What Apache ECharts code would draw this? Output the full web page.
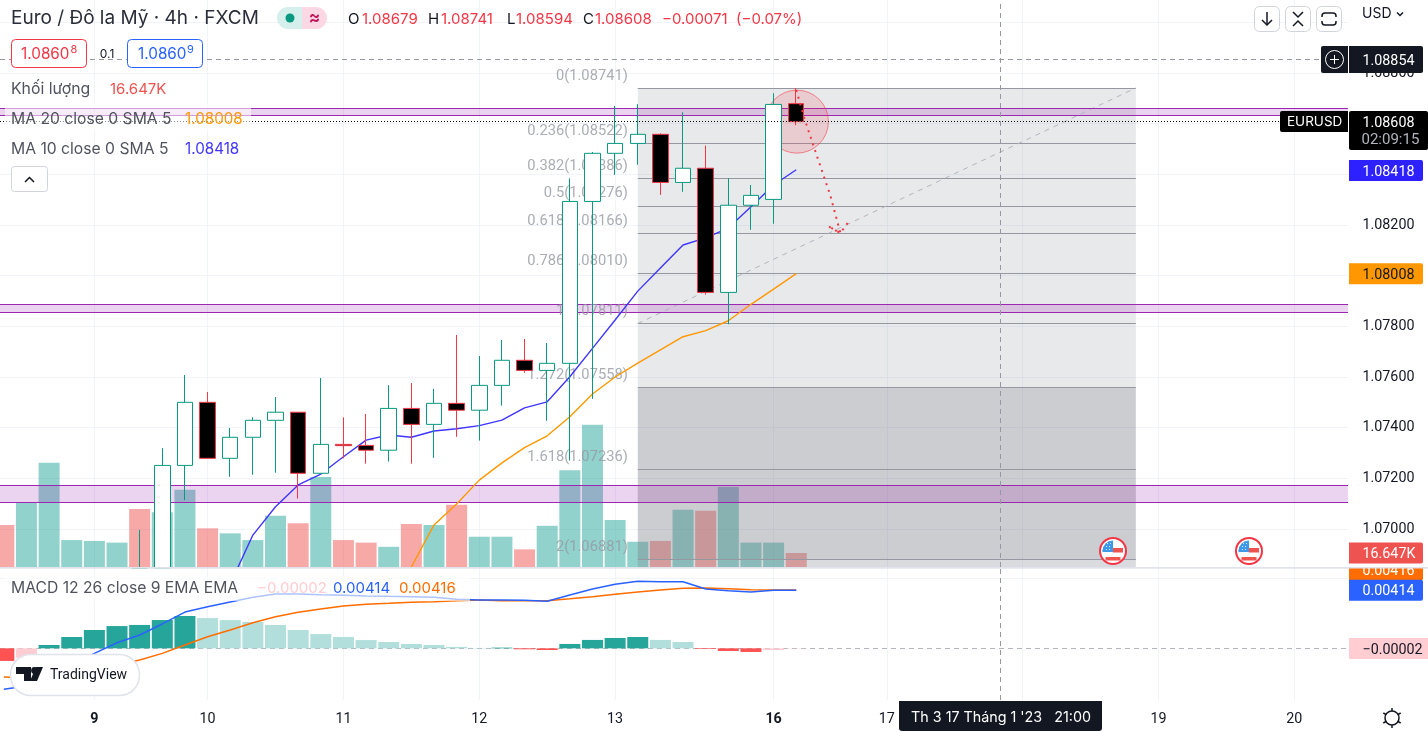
<!DOCTYPE html>
<html><head><meta charset="utf-8">
<style>html,body{margin:0;padding:0;background:#fff}#c{width:1428px;height:731px}</style>
<script src="https://cdn.jsdelivr.net/npm/echarts@6/dist/echarts.min.js"></script>
</head><body><div id="c"></div>
<script>
// ---- candle data (index, open, close, low, high); prices under the visible range are held at the pane's lower edge ----
const candleIdx=[6,7,8,9,10,11,12,13,14,15,16,17,18,19,20,21,22,23,24,25,26,27,28,29,30,31,32,33,34,35];
const opens =[1.06846,1.06846,1.07251,1.07500,1.07279,1.07362,1.07429,1.07461,1.07220,1.07334,1.07330,1.07311,1.07476,1.07413,1.07496,1.07469,1.07567,1.07666,1.07626,1.07654,1.08293,1.08483,1.08522,1.08558,1.08368,1.08424,1.07934,1.08278,1.08301,1.08679];
const closes=[1.06846,1.07251,1.07500,1.07279,1.07362,1.07429,1.07461,1.07220,1.07334,1.07329,1.07311,1.07476,1.07413,1.07496,1.07469,1.07567,1.07666,1.07626,1.07654,1.08293,1.08483,1.08522,1.08558,1.08368,1.08424,1.07934,1.08278,1.08317,1.08676,1.08608];
const lows  =[1.06846,1.06846,1.07114,1.07279,1.07206,1.07214,1.07222,1.07120,1.07220,1.07279,1.07258,1.07266,1.07258,1.07281,1.07364,1.07349,1.07487,1.07617,1.07427,1.07270,1.07514,1.08398,1.08438,1.08319,1.08331,1.07925,1.07808,1.08181,1.08205,1.08594];
const highs =[1.06996,1.07319,1.07608,1.07541,1.07399,1.07441,1.07521,1.07461,1.07596,1.07441,1.07454,1.07568,1.07576,1.07553,1.07766,1.07683,1.07746,1.07750,1.07734,1.08384,1.08488,1.08670,1.08677,1.08562,1.08645,1.08514,1.08384,1.08358,1.08720,1.08741];
// ---- volume (thousands), from index 0; direction +1 up / -1 down ----
const volumes=[50,76,124,32,31,29,69,65,92,46,40,32,61,52,107,32,29,24,51,50,74,36,36,21,49,115,169,56,30,31,68,67,95,29,29,16.647];
const volumeDir=[-1,1,1,1,1,1,-1,1,1,-1,1,1,1,-1,1,-1,-1,1,-1,1,-1,1,1,-1,1,1,1,1,1,-1,1,-1,1,1,1,-1];
// ---- moving averages ----
const ma10Start=10;
const ma10=[1.06783,1.06976,1.07088,1.07174,1.07217,1.07285,1.07351,1.07371,1.07362,1.07387,1.07396,1.07408,1.07430,1.07478,1.07502,1.07601,1.07713,1.07825,1.07939,1.08030,1.08121,1.08149,1.08188,1.08272,1.08358,1.08418];
const ma20Start=18;
const ma20=[1.0685,1.07016,1.07099,1.07193,1.07261,1.07321,1.07368,1.07443,1.07533,1.07600,1.07655,1.07707,1.07759,1.07783,1.07822,1.07887,1.07947,1.08008];
// ---- MACD pane, from index 0 ----
const macdHist=[-0.0009,-0.00067,0.00024,0.00081,0.00131,0.00159,0.00167,0.00202,0.00231,0.00216,0.00202,0.00188,0.00167,0.00131,0.00102,0.00081,0.00059,0.00045,0.00031,0.00024,0.0001,0.00003,0.00005,-0.00007,-0.00012,0.00031,0.0006,0.00074,0.00081,0.0006,0.00045,-0.00005,-0.00019,-0.00026,-0.00012,-0.00002];
const macdLine=[-0.00293,-0.00269,-0.00198,-0.00112,-0.00036,0.0004,0.00095,0.00174,0.00259,0.00297,0.00331,0.00364,0.00388,0.00388,0.00383,0.00379,0.00374,0.00371,0.00369,0.00364,0.0035,0.00345,0.00345,0.00343,0.00336,0.00381,0.00424,0.00457,0.00479,0.00476,0.00476,0.00424,0.00411,0.00402,0.00414,0.00414];
const macdSignal=[-0.00205,-0.00212,-0.00212,-0.00184,-0.00155,-0.00119,-0.00084,-0.00036,0.00024,0.00083,0.00131,0.00183,0.00226,0.00257,0.00281,0.00302,0.00314,0.00321,0.00329,0.00333,0.0034,0.00345,0.0034,0.0034,0.0034,0.00354,0.00369,0.00386,0.00402,0.00416,0.00429,0.00431,0.00426,0.00419,0.00417,0.00416];
// ---- drawings ----
const fibRatios=["0","0.236","0.382","0.5","0.618","0.786","1","1.272","1.618","2"];
const fibPrices=[1.08741,1.08522,1.08386,1.08276,1.08166,1.08010,1.07811,1.07558,1.07236,1.06881];
const fibStart=28, fibEnd=50;
const bandPrices=[[1.08662,1.08632],[1.07887,1.07855],[1.07172,1.07105]];
const forecastX=[35,35.38,35.9,36.5,36.95,36.4,36.95,37.4];
const forecastY=[1.08733,1.08615,1.08476,1.08318,1.08168,1.08196,1.08168,1.08224];
// ---- axes ----
const priceTicks=[1.07,1.072,1.074,1.076,1.078,1.08,1.082,1.084,1.086,1.088];
const priceGrid=[1.07,1.072,1.074,1.076,1.078,1.08,1.082,1.084,1.086,1.088,1.09];
const dayIdx=[4,9,15,21,27,34,39,45,51,57];
const dayLabels=["9","10","11","12","13","16","17","18","19","20"];
const boldDays=["9","16"];
const crossIdx=44, crossPrice=1.08854, lastPrice=1.08608;

const XMIN=-0.1687, XMAX=59.37, YMIN=1.0685, YMAX=1.090882, VMAX=674.2, MMIN=-0.00369, MMAX=0.005736;
const GREEN='#089981', RED='#f23645', FONT='Inter, Roboto, sans-serif', AXFONT='Roboto, sans-serif', AXSIZE=14.3;

const chart=echarts.init(document.getElementById('c'),null,{renderer:'canvas'});
const seg=(x1,y1,x2,y2)=>[{coord:[x1,y1]},{coord:[x2,y2]}];
const candleData=candleIdx.map((x,i)=>[x,opens[i],closes[i],lows[i],highs[i]]);
const fibLevelColor='#9598a1';

const option={
 animation:false, backgroundColor:'#fff',
 grid:[{left:0,top:0,width:1348,height:567,containLabel:false},{left:0,top:568,width:1348,height:132,containLabel:false}],
 xAxis:[
  {type:'value',gridIndex:0,min:XMIN,max:XMAX,axisLine:{show:false},axisTick:{show:false},axisLabel:{show:false},splitLine:{show:false}},
  {type:'value',gridIndex:1,min:XMIN,max:XMAX,axisLine:{show:false},axisTick:{show:false,customValues:dayIdx},splitLine:{show:false},
   axisLabel:{show:true,customValues:dayIdx,margin:12,fontFamily:AXFONT,fontSize:AXSIZE,color:'#131722',
     formatter:v=>{const s=dayLabels[dayIdx.indexOf(v)];return boldDays.includes(s)?'{b|'+s+'}':s;},
     rich:{b:{fontFamily:AXFONT,fontSize:AXSIZE,fontWeight:'bold',color:'#131722'}}}}
 ],
 yAxis:[
  {type:'value',gridIndex:0,position:'right',min:YMIN,max:YMAX,scale:true,axisLine:{show:false},axisTick:{show:false,customValues:priceGrid},splitLine:{show:false},
   axisLabel:{show:true,customValues:priceTicks,inside:false,margin:14.5,padding:[4,0,0,0],fontFamily:AXFONT,fontSize:AXSIZE,color:'#131722',formatter:v=>v.toFixed(5)}},
  {type:'value',gridIndex:0,min:0,max:VMAX,show:false,splitLine:{show:false}},
  {type:'value',gridIndex:1,position:'right',min:MMIN,max:MMAX,scale:true,axisLine:{show:false},axisTick:{show:false},axisLabel:{show:false},splitLine:{show:false}}
 ],
 series:[
  // grid lines
  {type:'line',name:'grid',xAxisIndex:0,yAxisIndex:0,data:[],z:0,silent:true,
   markLine:{silent:true,symbol:'none',z:0,animation:false,label:{show:false},lineStyle:{color:'#f0f3fa',width:1,type:'solid'},
    data:priceGrid.map(p=>seg(XMIN,p,XMAX,p)).concat(dayIdx.map(d=>seg(d,YMIN,d,YMAX)))}},
  {type:'line',name:'grid2',xAxisIndex:1,yAxisIndex:2,data:[],z:0,silent:true,
   markLine:{silent:true,symbol:'none',z:0,animation:false,label:{show:false},lineStyle:{color:'#f0f3fa',width:1,type:'solid'},
    data:[seg(XMIN,0.005,XMAX,0.005)].concat(dayIdx.map(d=>seg(d,MMIN,d,MMAX)))}},
  // volume
  {type:'bar',name:'Volume',xAxisIndex:0,yAxisIndex:1,z:1,barWidth:21,silent:true,
   data:volumes.map((v,i)=>({value:[i,v],itemStyle:{color:volumeDir[i]>0?'rgba(38,166,154,0.5)':'rgba(239,83,80,0.5)'}}))},
  // fib shading, levels and labels
  {type:'line',name:'fib',xAxisIndex:0,yAxisIndex:0,data:[],z:2,silent:true,
   markArea:{silent:true,z:2,animation:false,data:[
     [{coord:[fibStart,fibPrices[0]],itemStyle:{color:'rgba(120,123,134,0.17)'}},{coord:[fibEnd,fibPrices[7]]}],
     [{coord:[fibStart,fibPrices[7]],itemStyle:{color:'rgba(120,123,134,0.38)'}},{coord:[fibEnd,fibPrices[9]]}],
     [{coord:[fibStart,fibPrices[9]],itemStyle:{color:'rgba(120,123,134,0.27)'}},{coord:[fibEnd,YMIN]}]]},
   markLine:{silent:true,symbol:'none',z:3,animation:false,label:{show:false},lineStyle:{color:fibLevelColor,width:1,type:'solid'},
     data:fibPrices.map(p=>seg(fibStart,p,fibEnd,p))}},
  {type:'line',name:'fibTrend',xAxisIndex:0,yAxisIndex:0,data:[],z:3,silent:true,
   markLine:{silent:true,symbol:'none',z:3,animation:false,label:{show:false},lineStyle:{color:'#b2b5be',width:1,type:[5,5]},
     data:[seg(fibStart,fibPrices[6],fibEnd,fibPrices[0])]}},
  {type:'scatter',name:'fibLabels',xAxisIndex:0,yAxisIndex:0,z:3,symbolSize:1,itemStyle:{color:'rgba(0,0,0,0)'},silent:true,
   data:fibPrices.map(p=>[fibStart,p]),
   label:{show:true,position:'left',distance:9.5,offset:[0,-12],fontFamily:AXFONT,fontSize:14.7,color:'#9598a1',
     formatter:o=>fibRatios[o.dataIndex]+'('+fibPrices[o.dataIndex].toFixed(5)+')'}},
  // bands
  {type:'line',name:'bands',xAxisIndex:0,yAxisIndex:0,data:[],z:3,silent:true,
   markArea:{silent:true,z:3,animation:false,itemStyle:{color:'rgba(156,39,176,0.2)'},data:bandPrices.map(b=>[{coord:[XMIN,b[0]]},{coord:[XMAX,b[1]]}])},
   markLine:{silent:true,symbol:'none',z:3,animation:false,label:{show:false},lineStyle:{color:'#9c27b0',width:1,type:'solid'},
     data:bandPrices.flat().map(p=>seg(XMIN,p,XMAX,p))}},
  // crosshair + price lines
  {type:'line',name:'lines',xAxisIndex:0,yAxisIndex:0,data:[],z:3,silent:true,
   markLine:{silent:true,symbol:'none',z:3,animation:false,label:{show:false},data:[
     seg(XMIN,crossPrice,XMAX,crossPrice),seg(crossIdx,YMIN,crossIdx,YMAX)],lineStyle:{color:'#9598a1',width:1,type:[5,4]}}},
  {type:'line',name:'lastPriceLine',xAxisIndex:0,yAxisIndex:0,data:[],z:3,silent:true,
   markLine:{silent:true,symbol:'none',z:6,animation:false,label:{show:false},data:[seg(XMIN,lastPrice,XMAX,lastPrice)],lineStyle:{color:'#000',width:1,type:[1,2]}}},
  {type:'line',name:'crossBottom',xAxisIndex:1,yAxisIndex:2,data:[],z:3,silent:true,
   markLine:{silent:true,symbol:'none',z:3,animation:false,label:{show:false},data:[seg(crossIdx,MMIN,crossIdx,MMAX)],lineStyle:{color:'#9598a1',width:1,type:[5,4]}}},
  // circle
  {type:'scatter',name:'circle',xAxisIndex:0,yAxisIndex:0,z:4,symbolSize:63,silent:true,data:[[35.03,lastPrice]],
   itemStyle:{color:'rgba(242,54,69,0.2)',borderColor:'rgba(242,54,69,0.7)',borderWidth:1}},
  // MAs
  {type:'line',name:'MA10',xAxisIndex:0,yAxisIndex:0,z:4,showSymbol:false,symbol:'none',silent:true,lineStyle:{color:'#3f35ff',width:1.4},
   data:ma10.map((v,i)=>[ma10Start+i,v])},
  {type:'line',name:'MA20',xAxisIndex:0,yAxisIndex:0,z:4,showSymbol:false,symbol:'none',silent:true,lineStyle:{color:'#ff9800',width:1.4},
   data:ma20.map((v,i)=>[ma20Start+i,v])},
  // candles
  {type:'candlestick',name:'EURUSD',xAxisIndex:0,yAxisIndex:0,z:5,barWidth:16,silent:true,large:false,data:candleData,
   itemStyle:{color:'#ffffff',color0:'#000000',borderColor:GREEN,borderColor0:RED,borderWidth:1}},
  {type:'line',name:'forecast',xAxisIndex:0,yAxisIndex:0,z:6,showSymbol:false,symbol:'none',silent:true,
   lineStyle:{color:'#f23645',width:2,type:[2,5]},data:forecastX.map((x,i)=>[x,forecastY[i]])},
  // MACD
  {type:'line',name:'zero',xAxisIndex:1,yAxisIndex:2,data:[],z:1,silent:true,
   markLine:{silent:true,symbol:'none',z:1,animation:false,label:{show:false},data:[seg(XMIN,0,XMAX,0)],lineStyle:{color:'#b2b5be',width:1,type:[5,4]}}},
  {type:'bar',name:'Hist',xAxisIndex:1,yAxisIndex:2,z:2,barWidth:21,silent:true,
   data:macdHist.map((v,i)=>{const p=i?macdHist[i-1]:v+1;const c=v>=0?(v>p?'#26a69a':'#b2dfdb'):(v<p?'#ff5252':'#ffcdd2');return {value:[i,v],itemStyle:{color:c}};})},
  {type:'line',name:'Signal',xAxisIndex:1,yAxisIndex:2,z:3,showSymbol:false,symbol:'none',silent:true,lineStyle:{color:'#ff6d00',width:1.5},data:macdSignal.map((v,i)=>[i,v])},
  {type:'line',name:'MACD',xAxisIndex:1,yAxisIndex:2,z:4,showSymbol:false,symbol:'none',silent:true,lineStyle:{color:'#2962ff',width:1.5},data:macdLine.map((v,i)=>[i,v])}
 ]
};
chart.setOption(option);

// ---- overlay UI, positioned after scales exist ----
const py=v=>chart.convertToPixel({yAxisIndex:0},v);
const my=v=>chart.convertToPixel({yAxisIndex:2},v);
let zz=0; const Z=100;
const txt=(x,y,s,fill,size,o={})=>({type:'text',z:Z,z2:++zz,silent:true,style:{x,y,text:s,fill,font:(o.weight||'normal')+' '+size+'px '+(o.font||FONT),textAlign:o.align||'left',textVerticalAlign:'middle'}});
const ax=(x,y,s,fill,o={})=>txt(x,y,s,fill,o.size||AXSIZE,Object.assign({font:AXFONT},o));
const rect=(x,y,w,h,fill,o={})=>({type:'rect',z:Z,z2:++zz,silent:true,shape:{x,y,width:w,height:h,r:o.r||0},style:{fill:fill||'none',stroke:o.stroke||'none',lineWidth:o.lw||1}});
const circ=(cx,cy,r,fill,o={})=>({type:'circle',z:Z,z2:++zz,silent:true,shape:{cx,cy,r},style:{fill:fill||'none',stroke:o.stroke||'none',lineWidth:o.lw||1}});
const pl=(pts,stroke,lw=1.5)=>({type:'polyline',z:Z,z2:++zz,silent:true,shape:{points:pts},style:{fill:'none',stroke,lineWidth:lw}});
const pg=(pts,fill)=>({type:'polygon',z:Z,z2:++zz,silent:true,shape:{points:pts},style:{fill}});
const TXT='#131722', GREY='#50535e';
const els=[];
const add=(...a)=>els.push(...a);

// legend translucency
add(rect(5,104,246,27,'rgba(255,255,255,0.55)'));
add(rect(5,577,465,24,'rgba(255,255,255,0.62)'));

// header
add(txt(11,18,'Euro / Đô la Mỹ · 4h · FXCM','#2a2e39',19));
add(rect(277,7,25,22,'#d5f0ec',{r:[11,0,0,11]}),rect(302,7,25,22,'#fcd7e4',{r:[0,11,11,0]}));
add(circ(290,18,4.5,GREEN));
add(txt(314.5,18,'≈','#c2185b',17,{align:'center',weight:'bold'}));
const ohlc=[['O',348,'1.08679',362],['H',428,'1.08741',441],['L',507,'1.08594',516],['C',583,'1.08608',595]];
ohlc.forEach(r=>{add(txt(r[1],19,r[0],TXT,15),txt(r[3],19,r[2],RED,15));});
add(txt(662,19,'−0.00071',RED,15),txt(736,19,'(−0.07%)',RED,15));

// buy/sell
add(rect(11.5,39.5,75,28,'#fff',{r:4,stroke:RED}));
add(txt(21,54,'1.0860',RED,15.3),txt(70.5,50,'8',RED,11));
add(txt(107,54,'0.1',TXT,12,{align:'center'}));
add(rect(127.5,39.5,75,28,'#fff',{r:4,stroke:'#2962ff'}));
add(txt(138,54,'1.0860','#2962ff',15.3),txt(187,50,'9','#2962ff',11));

// legends
add(txt(11,89,'Khối lượng',GREY,15.8),txt(110,89,'16.647K','#ef5350',15));
add(txt(11,119,'MA 20 close 0 SMA 5',GREY,15.7),txt(185,119,'1.08008','#ff9800',15.2));
add(txt(11,149,'MA 10 close 0 SMA 5',GREY,15.7),txt(185,149,'1.08418','#3f35ff',15.2));
add(rect(11.5,166.5,36,25,'#fff',{r:3,stroke:'#d1d4dc'}),pl([[25,182],[29.5,177.5],[34,182]],TXT,1.5));
add(txt(11,588,'MACD 12 26 close 9 EMA EMA',GREY,15.7),txt(257,588,'−0.00002','#ffcdd2',15),txt(333,588,'0.00414','#2962ff',15),txt(399,588,'0.00416','#ff6d00',15));

// top-right buttons
[1254,1285,1316].forEach(x=>add(rect(x+.5,6.5,25,25,'#fff',{r:5,stroke:'#d1d4dc'})));
add(pl([[1267,12],[1267,25]],TXT),pl([[1262,20],[1267,25],[1272,20]],TXT));
add(pl([[1293,12],[1298,17],[1303,12]],TXT),pl([[1293,26],[1298,21],[1303,26]],TXT));
add({type:'rect',z:Z,z2:++zz,silent:true,shape:{x:1322,y:13,width:14,height:12,r:3},style:{fill:'none',stroke:TXT,lineWidth:1.5}});
add(rect(1320,17,18,4,'#fff'));
add(txt(1362,14,'USD',TXT,14),pl([[1397,12.5],[1400,15.5],[1403,12.5]],TXT,1.5));

// US event flags
[1113,1249].forEach(cx=>{const cy=551;
  add(circ(cx,cy,13,'#fff',{stroke:RED,lw:2}));
  add({type:'sector',z:Z,z2:++zz,silent:true,shape:{cx,cy,r:10.5,startAngle:Math.PI,endAngle:Math.PI*1.5},style:{fill:'#3d9ae8'}});
  add(rect(cx-10.5,cy-1,10.5,2,'#3d9ae8'));
  add(rect(cx,cy-3,10,4.5,'#ef5350'));
  add(rect(cx-7.5,cy+6,15,3.5,'#ef5350'));
  [[-7,-5],[-4,-5],[-7,-2],[-4,-2],[-3,-8],[-6,-8]].forEach(d=>add(rect(cx+d[0],cy+d[1],1,1,'#cfe6fa')));
});

// pane separator & axis tags
add(rect(0,567,1428,1.5,'#e0e3eb'));
const vy=chart.convertToPixel({yAxisIndex:1},volumes[35]);
const tag=(cy,w,fill,s,color,o={})=>{const x=o.x||1349;add(rect(x,cy-10.5,w,21,fill,{r:o.r===undefined?[0,2,2,0]:o.r}),ax(x+13.5,cy+1.5,s,color));};
// macd tags first so the volume tag sits over the orange one
tag(my(0.00416)-20,74,'#ff6d00','0.00416','#fff');
add(rect(1349,560,79,8,'#fff'),rect(0,567,1428,1.5,'#e0e3eb'));
tag(vy,74,'#ef5350','16.647K','#fff');
tag(my(0.00414),74,'#2962ff','0.00414','#fff');
tag(my(-0.00002),79,'#ffcdd2','−0.00002',TXT,{r:0});
tag(py(1.08418)+0.7,74,'#2d22ff','1.08418','#fff');
tag(py(1.08008),74,'#ff9800','1.08008',TXT);
// crosshair price tag
add(rect(1349,46,74,27,TXT,{r:[0,2,2,0]}),ax(1362.5,61,'1.08854','#fff'));
add(rect(1321,46,27,27,TXT,{r:[2,0,0,2]}),circ(1334.5,59.5,9,'none',{stroke:'#fff',lw:1}),pl([[1330,59.5],[1339,59.5]],'#fff',1),pl([[1334.5,55],[1334.5,64]],'#fff',1));
// last price tag
add(rect(1349,111,79,39,'#000',{r:2}),ax(1362.5,123,'1.08608','#fff'),ax(1361.5,140.5,'02:09:15','#b2b5be',{size:15}));
add(rect(1280,111,68,21,'#000',{r:[2,0,0,2]}),txt(1287,122,'EURUSD','#fff',13.5));
// time tag
add(rect(899,701,203,30,TXT,{r:[0,0,3,3]}),txt(1001,718,"Th 3 17 Tháng 1 '23   21:00",'#fff',14.3,{align:'center'}));
// gear
add(circ(1392,718,7,'none',{stroke:TXT,lw:1.5}));
[[0,-10,0,-7],[0,7,0,10],[-8.7,-5,-6,-3.5],[8.7,-5,6,-3.5],[-8.7,5,-6,3.5],[8.7,5,6,3.5]].forEach(s=>add(pl([[1392+s[0],718+s[1]],[1392+s[2],718+s[3]]],TXT,1.5)));
// TradingView badge
add(rect(10.5,654.5,129,41,'#fff',{r:20,stroke:'#e0e3eb',lw:1.5}));
add(pg([[16,667],[31,667],[31,681],[24,681],[24,674],[16,674]],TXT),circ(34.5,670.5,3.4,TXT),pg([[36,667],[43,667],[37,681],[30,681]],TXT));
add(txt(50,675,'TradingView',TXT,14,{font:'Roboto, sans-serif'}));

chart.setOption({graphic:{elements:els}});
</script></body></html>
